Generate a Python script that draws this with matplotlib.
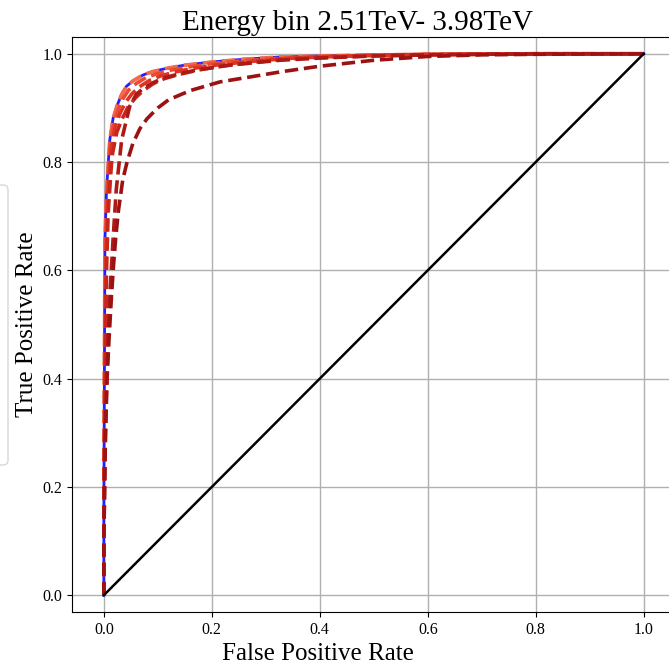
import matplotlib
matplotlib.use("Agg")
import matplotlib.pyplot as plt
from matplotlib.patches import FancyBboxPatch

plt.rcParams['font.family'] = ['Liberation Serif', 'DejaVu Serif']

title = "Energy bin 2.51TeV- 3.98TeV"

# mean ROC (blue) - also the outermost fold
fpr_mean = [0, 0.0, 0.001, 0.002, 0.005, 0.011, 0.017, 0.024, 0.033, 0.042, 0.054, 0.073,
            0.090, 0.116, 0.150, 0.202, 0.260, 0.326, 0.400, 0.500, 0.600, 0.800, 1.0]
tpr_mean = [0, 0.15, 0.40, 0.656, 0.749, 0.841, 0.880, 0.903, 0.925, 0.940, 0.950, 0.961,
            0.967, 0.973, 0.979, 0.985, 0.990, 0.994, 0.996, 0.998, 0.999, 1.0, 1.0]

# individual folds, light -> dark
fold_fpr = [
    [0, 0.0, 0.001, 0.002, 0.005, 0.011, 0.017, 0.024, 0.033, 0.042, 0.054, 0.073,
     0.090, 0.116, 0.150, 0.202, 0.260, 0.326, 0.400, 0.500, 0.600, 0.800, 1.0],
    [0, 0.0, 0.001, 0.003, 0.006, 0.012, 0.019, 0.027, 0.036, 0.046, 0.060, 0.078,
     0.098, 0.125, 0.160, 0.210, 0.270, 0.330, 0.400, 0.500, 0.600, 0.800, 1.0],
    [0, 0.0, 0.002, 0.004, 0.007, 0.013, 0.021, 0.030, 0.040, 0.052, 0.066, 0.085,
     0.105, 0.130, 0.165, 0.215, 0.275, 0.335, 0.400, 0.500, 0.600, 0.800, 1.0],
    [0, 0.0, 0.002, 0.005, 0.008, 0.015, 0.024, 0.034, 0.045, 0.058, 0.073, 0.092,
     0.112, 0.140, 0.175, 0.225, 0.285, 0.340, 0.400, 0.500, 0.600, 0.800, 1.0],
    [0, 0.0, 0.002, 0.005, 0.008, 0.012, 0.017, 0.023, 0.033, 0.048, 0.060, 0.073,
     0.090, 0.110, 0.140, 0.172, 0.233, 0.326, 0.400, 0.500, 0.600, 0.800, 1.0],
    [0, 0.0, 0.003, 0.006, 0.010, 0.014, 0.018, 0.022, 0.027, 0.035, 0.043, 0.054,
     0.067, 0.080, 0.100, 0.120, 0.160, 0.215, 0.276, 0.330, 0.400, 0.500, 0.600,
     0.700, 0.800, 1.0],
]
fold_tpr = [
    [0, 0.15, 0.40, 0.656, 0.749, 0.841, 0.880, 0.903, 0.925, 0.940, 0.950, 0.961,
     0.967, 0.973, 0.979, 0.985, 0.990, 0.994, 0.996, 0.998, 0.999, 1.0, 1.0],
    [0, 0.15, 0.38, 0.640, 0.740, 0.833, 0.873, 0.898, 0.918, 0.933, 0.945, 0.956,
     0.963, 0.970, 0.976, 0.983, 0.988, 0.992, 0.995, 0.997, 0.999, 1.0, 1.0],
    [0, 0.14, 0.37, 0.620, 0.725, 0.822, 0.865, 0.890, 0.910, 0.926, 0.939, 0.951,
     0.959, 0.966, 0.973, 0.980, 0.986, 0.991, 0.994, 0.997, 0.999, 1.0, 1.0],
    [0, 0.13, 0.35, 0.600, 0.705, 0.810, 0.855, 0.880, 0.902, 0.918, 0.932, 0.945,
     0.954, 0.962, 0.970, 0.978, 0.985, 0.990, 0.993, 0.996, 0.998, 1.0, 1.0],
    [0, 0.10, 0.25, 0.380, 0.480, 0.570, 0.656, 0.749, 0.841, 0.903, 0.925, 0.936,
     0.946, 0.955, 0.963, 0.970, 0.979, 0.988, 0.992, 0.996, 0.998, 1.0, 1.0],
    [0, 0.10, 0.30, 0.400, 0.480, 0.550, 0.610, 0.660, 0.710, 0.767, 0.800, 0.835,
     0.862, 0.880, 0.900, 0.915, 0.932, 0.948, 0.958, 0.967, 0.977, 0.988, 0.995,
     0.998, 0.999, 1.0],
]
fold_colors = ['#f26a4c', '#ec4a30', '#dc3324', '#c8251c', '#ad1a16', '#9c1212']

fig = plt.figure(figsize=(6.69, 6.65), dpi=100)
ax = fig.add_axes([0.1076, 0.0797, 0.903, 0.8647])

ax.plot(fpr_mean, tpr_mean, color='#1f1fff', lw=2.0, zorder=2)
for xs, ys, c in zip(fold_fpr, fold_tpr, fold_colors):
    ax.plot(xs, ys, color=c, lw=2.6, ls='--', zorder=3)
ax.plot([0, 1], [0, 1], color='black', lw=1.8, zorder=4)

ax.set_xlim(-0.059, 1.06)
ax.set_ylim(-0.031, 1.031)
ax.set_xticks([0.0, 0.2, 0.4, 0.6, 0.8, 1.0])
ax.set_yticks([0.0, 0.2, 0.4, 0.6, 0.8, 1.0])
ax.tick_params(labelsize=11.5)
ax.grid(True, color='#b0b0b0', lw=1.0)
ax.set_axisbelow(True)

ax.set_title(title, fontsize=21, pad=5, x=0.472)
ax.set_xlabel('False Positive Rate', fontsize=18, labelpad=4, x=0.407)
ax.set_ylabel('True Positive Rate', fontsize=18, labelpad=3)

# edge of a legend box peeking in from the left
box = FancyBboxPatch((-100, 200), 108, 280, boxstyle='round,pad=0,rounding_size=5',
                     transform=None, facecolor='white', edgecolor='#d8d8d8', lw=1.0,
                     zorder=-1)
fig.patches.append(box)

fig.savefig('out.png', dpi=100)
